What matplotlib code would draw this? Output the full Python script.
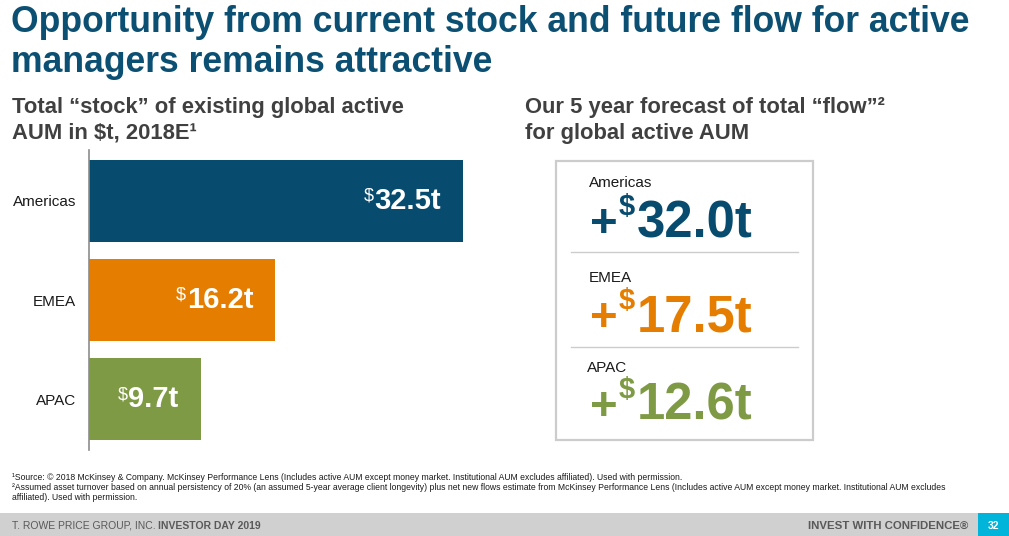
import matplotlib
matplotlib.use("Agg")
import matplotlib.pyplot as plt
import matplotlib.patches
import matplotlib.transforms as mtrans

# data
regions = ["Americas", "EMEA", "APAC"]
stock = [32.5, 16.2, 9.7]
flow = [32.0, 17.5, 12.6]
colors = ["#074b6e", "#e57e00", "#7f9a45"]

W, H = 1009, 536
plt.rcParams["font.family"] = ["Liberation Sans", "DejaVu Sans"]

fig = plt.figure(figsize=(W / 100, H / 100), dpi=100)
# pixel coords from top-left
px = mtrans.Affine2D().scale(1 / W, -1 / H).translate(0, 1) + fig.transFigure

title_col = "#0b4f72"
sub_col = "#404040"

fig.text(11, 22, "Opportunity from current stock and future flow for active",
         transform=px, fontsize=25.6, fontweight="bold", color=title_col, va="center")
fig.text(11, 63, "managers remains attractive",
         transform=px, fontsize=25.6, fontweight="bold", color=title_col, va="center")

fig.text(12, 107, "Total \u201cstock\u201d of existing global active",
         transform=px, fontsize=15.8, fontweight="bold", color=sub_col, va="center")
fig.text(12, 133, "AUM in $t, 2018E\u00b9",
         transform=px, fontsize=15.8, fontweight="bold", color=sub_col, va="center")
fig.text(525, 107, "Our 5 year forecast of total \u201cflow\u201d\u00b2",
         transform=px, fontsize=15.8, fontweight="bold", color=sub_col, va="center")
fig.text(525, 133, "for global active AUM",
         transform=px, fontsize=15.8, fontweight="bold", color=sub_col, va="center")

# left bar chart
ax = fig.add_axes([89 / W, (H - 450) / H, 400 / W, 300 / H])
ypos = list(range(len(regions)))
ax.barh(ypos, stock, height=0.826, color=colors)
ax.set_xlim(0, 400 / 11.508)
ax.set_ylim(2.51, -0.51)
ax.set_yticks(ypos, regions, fontsize=11, color="#1a1a1a")
ax.tick_params(axis="y", length=0, pad=9.4)
ax.set_xticks([])
for s in ["top", "right", "bottom"]:
    ax.spines[s].set_visible(False)
ax.spines["left"].set_color("#8c8c8c")
ax.spines["left"].set_linewidth(1.2)

for i, v in enumerate(stock):
    t = ax.annotate(f"{v:.1f}t", xy=(v, i), xytext=(-15.8, 0), textcoords="offset points",
                    ha="right", va="center", fontsize=21, fontweight="bold", color="white")
    ax.annotate("$", xy=(0, 1), xycoords=t, xytext=(-0.5, -0.5), textcoords="offset points",
                ha="right", va="top", fontsize=13, color="white")

# right forecast box
fig.patches.append(matplotlib.patches.Rectangle((556, 161), 257, 279, transform=px,
                                                fill=False, edgecolor="#cccccc", linewidth=1.6))
for ysep in [252, 347]:
    fig.add_artist(plt.Line2D([571, 798], [ysep, ysep], transform=px, color="#cccccc", linewidth=1))

label_y = [183, 278, 368]
label_x = [589, 589, 587]
base_y = [237, 331, 420]
for i, (name, v) in enumerate(zip(regions, flow)):
    fig.text(label_x[i], label_y[i], name, transform=px, fontsize=11, color="#1a1a1a", va="center")
    fig.text(590, base_y[i], "+", transform=px, fontsize=34, fontweight="bold",
             color=colors[i], va="baseline")
    fig.text(619, base_y[i] - 44, "$", transform=px, fontsize=21, fontweight="bold",
             color=colors[i], va="top")
    fig.text(637, base_y[i], f"{v:.1f}t", transform=px, fontsize=36.5, fontweight="bold",
             color=colors[i], va="baseline")

# footnotes
fn_font = ["Liberation Sans Narrow", "Liberation Sans", "DejaVu Sans"]
fig.text(12, 478, "\u00b9Source: \u00a9 2018 McKinsey & Company. McKinsey Performance Lens (Includes active AUM except "
         "money market. Institutional AUM excludes affiliated). Used with permission.",
         transform=px, fontsize=6.2, family=fn_font, color="#1a1a1a", va="center")
fig.text(12, 488, "\u00b2Assumed asset turnover based on annual persistency of 20% (an assumed 5-year average client "
         "longevity) plus net new flows estimate from McKinsey Performance Lens (Includes active AUM except money "
         "market. Institutional AUM excludes",
         transform=px, fontsize=6.2, family=fn_font, color="#1a1a1a", va="center")
fig.text(12, 498, "affiliated). Used with permission.",
         transform=px, fontsize=6.2, family=fn_font, color="#1a1a1a", va="center")

# footer band
fig.patches.append(matplotlib.patches.Rectangle((0, 513), W, 23, transform=px,
                                                facecolor="#d0d0d0", edgecolor="none"))
fig.patches.append(matplotlib.patches.Rectangle((978, 513), 31, 23, transform=px,
                                                facecolor="#00b5d9", edgecolor="none"))
ft = fig.text(12, 526, "T. ROWE PRICE GROUP, INC. ", transform=px, fontsize=7.5,
              color="#595959", va="center")
fig.canvas.draw()
bb = ft.get_window_extent()
fig.text(bb.x1 / W, 1 - 526 / H, "INVESTOR DAY 2019", fontsize=7.5, fontweight="bold",
         color="#595959", va="center", ha="left")
fig.text(968, 526, "INVEST WITH CONFIDENCE\u00ae", transform=px, fontsize=8.2, fontweight="bold",
         color="#595959", va="center", ha="right")
fig.text(993.5, 526, "32", transform=px, fontsize=7.5, fontweight="bold", color="white",
         va="center", ha="center")

fig.savefig("out.png", dpi=100)
